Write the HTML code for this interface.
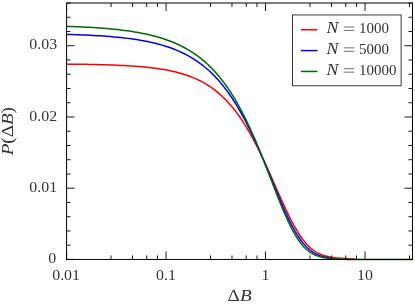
<!DOCTYPE html><html><head><meta charset="utf-8"><style>html,body{margin:0;padding:0;background:#fff;overflow:hidden}svg{display:block;position:absolute;left:0;top:0;will-change:transform}text{font-family:"Liberation Serif",serif;fill:#333}.i{font-style:italic}</style></head><body>
<svg width="415" height="304" viewBox="0 0 415 304">
<rect x="0" y="0" width="415" height="304" fill="#fff"/>
<defs><clipPath id="c"><rect x="66.58" y="3.00" width="345.88" height="258.45"/></clipPath></defs>
<g clip-path="url(#c)" fill="none" stroke-width="1.5" stroke-linejoin="round">
<path d="M65.58,64.09 L69.03,64.13 L72.47,64.16 L75.92,64.21 L79.37,64.25 L82.81,64.30 L86.26,64.36 L89.71,64.42 L93.15,64.49 L96.60,64.57 L100.05,64.65 L103.49,64.75 L106.94,64.85 L110.39,64.96 L113.83,65.09 L117.28,65.23 L120.73,65.38 L124.17,65.56 L127.62,65.75 L131.07,65.96 L134.51,66.19 L137.96,66.45 L141.41,66.73 L144.85,67.05 L148.30,67.41 L151.75,67.80 L155.19,68.23 L158.64,68.71 L162.09,69.25 L165.53,69.84 L168.98,70.50 L172.43,71.23 L175.87,72.04 L179.32,72.94 L182.77,73.93 L186.21,75.04 L189.66,76.26 L193.11,77.61 L196.55,79.11 L200.00,80.77 L200.88,81.22 L201.76,81.68 L202.64,82.15 L203.52,82.64 L204.40,83.14 L205.28,83.65 L206.16,84.17 L207.04,84.71 L207.92,85.26 L208.81,85.83 L209.69,86.41 L210.57,87.00 L211.45,87.61 L212.33,88.23 L213.21,88.87 L214.09,89.53 L214.97,90.20 L215.85,90.89 L216.73,91.59 L217.61,92.31 L218.49,93.05 L219.37,93.81 L220.25,94.58 L221.13,95.37 L222.01,96.18 L222.89,97.01 L223.77,97.86 L224.65,98.73 L225.53,99.62 L226.42,100.53 L227.30,101.46 L228.18,102.41 L229.06,103.38 L229.94,104.38 L230.82,105.39 L231.70,106.43 L232.58,107.49 L233.46,108.57 L234.34,109.68 L235.22,110.81 L236.10,111.96 L236.98,113.13 L237.86,114.33 L238.74,115.56 L239.62,116.80 L240.50,118.08 L241.38,119.37 L242.26,120.69 L243.14,122.04 L244.03,123.41 L244.91,124.80 L245.79,126.22 L246.67,127.67 L247.55,129.14 L248.43,130.63 L249.31,132.15 L250.19,133.70 L251.07,135.26 L251.95,136.86 L252.83,138.47 L253.71,140.11 L254.59,141.78 L255.47,143.46 L256.35,145.17 L257.23,146.90 L258.11,148.65 L258.99,150.43 L259.87,152.22 L260.75,154.03 L261.64,155.86 L262.52,157.72 L263.40,159.58 L264.28,161.47 L265.16,163.37 L266.04,165.28 L266.92,167.21 L267.80,169.15 L268.68,171.11 L269.56,173.07 L270.44,175.04 L271.32,177.02 L272.20,179.00 L273.08,180.99 L273.96,182.99 L274.84,184.98 L275.72,186.98 L276.60,188.97 L277.48,190.96 L278.36,192.95 L279.25,194.93 L280.13,196.90 L281.01,198.87 L281.89,200.82 L282.77,202.75 L283.65,204.67 L284.53,206.58 L285.41,208.46 L286.29,210.33 L287.17,212.17 L288.05,213.99 L288.93,215.78 L289.81,217.54 L290.69,219.27 L291.57,220.98 L292.45,222.64 L293.33,224.28 L294.21,225.88 L295.09,227.44 L295.97,228.96 L296.86,230.45 L297.74,231.89 L298.62,233.29 L299.50,234.65 L300.38,235.97 L301.26,237.24 L302.14,238.46 L303.02,239.65 L303.90,240.78 L304.78,241.87 L305.66,242.92 L306.54,243.92 L307.42,244.88 L308.30,245.79 L309.18,246.65 L310.06,247.48 L310.94,248.26 L311.82,248.99 L312.70,249.69 L313.58,250.35 L314.47,250.97 L315.35,251.55 L316.23,252.09 L317.11,252.60 L317.99,253.08 L318.87,253.52 L319.75,253.93 L320.63,254.32 L321.51,254.67 L322.39,255.00 L323.27,255.31 L324.15,255.59 L325.03,255.85 L325.91,256.09 L326.79,256.31 L327.67,256.52 L328.55,256.71 L329.43,256.88 L330.31,257.04 L331.19,257.19 L332.08,257.33 L332.96,257.45 L333.84,257.57 L334.72,257.68 L335.60,257.78 L336.48,257.88 L337.36,257.97 L338.24,258.05 L339.12,258.13 L340.00,258.21 L341.88,258.35 L343.77,258.48 L345.65,258.60 L347.53,258.71 L349.42,258.81 L351.30,258.90 L353.19,258.98 L355.07,259.06" stroke="#ff0000"/>
<path d="M65.58,34.37 L69.03,34.47 L72.47,34.58 L75.92,34.70 L79.37,34.83 L82.81,34.97 L86.26,35.12 L89.71,35.28 L93.15,35.46 L96.60,35.66 L100.05,35.87 L103.49,36.10 L106.94,36.35 L110.39,36.62 L113.83,36.91 L117.28,37.23 L120.73,37.58 L124.17,37.96 L127.62,38.37 L131.07,38.82 L134.51,39.31 L137.96,39.84 L141.41,40.41 L144.85,41.04 L148.30,41.72 L151.75,42.47 L155.19,43.28 L158.64,44.16 L162.09,45.12 L165.53,46.17 L168.98,47.31 L172.43,48.55 L175.87,49.90 L179.32,51.36 L182.77,52.96 L186.21,54.70 L189.66,56.60 L193.11,58.65 L196.55,60.89 L200.00,63.32 L200.88,63.98 L201.76,64.64 L202.64,65.33 L203.52,66.02 L204.40,66.73 L205.28,67.46 L206.16,68.20 L207.04,68.96 L207.92,69.73 L208.81,70.52 L209.69,71.32 L210.57,72.14 L211.45,72.98 L212.33,73.84 L213.21,74.71 L214.09,75.60 L214.97,76.51 L215.85,77.43 L216.73,78.38 L217.61,79.34 L218.49,80.33 L219.37,81.33 L220.25,82.35 L221.13,83.40 L222.01,84.46 L222.89,85.54 L223.77,86.65 L224.65,87.77 L225.53,88.92 L226.42,90.09 L227.30,91.28 L228.18,92.49 L229.06,93.72 L229.94,94.98 L230.82,96.26 L231.70,97.56 L232.58,98.89 L233.46,100.23 L234.34,101.61 L235.22,103.00 L236.10,104.42 L236.98,105.87 L237.86,107.33 L238.74,108.82 L239.62,110.34 L240.50,111.88 L241.38,113.44 L242.26,115.03 L243.14,116.64 L244.03,118.28 L244.91,119.94 L245.79,121.62 L246.67,123.33 L247.55,125.06 L248.43,126.82 L249.31,128.59 L250.19,130.39 L251.07,132.22 L251.95,134.06 L252.83,135.93 L253.71,137.81 L254.59,139.72 L255.47,141.65 L256.35,143.60 L257.23,145.57 L258.11,147.55 L258.99,149.56 L259.87,151.58 L260.75,153.61 L261.64,155.67 L262.52,157.73 L263.40,159.81 L264.28,161.90 L265.16,164.00 L266.04,166.12 L266.92,168.24 L267.80,170.37 L268.68,172.50 L269.56,174.64 L270.44,176.78 L271.32,178.93 L272.20,181.07 L273.08,183.22 L273.96,185.36 L274.84,187.50 L275.72,189.63 L276.60,191.75 L277.48,193.86 L278.36,195.97 L279.25,198.05 L280.13,200.13 L281.01,202.18 L281.89,204.22 L282.77,206.24 L283.65,208.23 L284.53,210.20 L285.41,212.14 L286.29,214.06 L287.17,215.94 L288.05,217.79 L288.93,219.61 L289.81,221.40 L290.69,223.14 L291.57,224.85 L292.45,226.52 L293.33,228.15 L294.21,229.73 L295.09,231.27 L295.97,232.77 L296.86,234.22 L297.74,235.62 L298.62,236.97 L299.50,238.28 L300.38,239.54 L301.26,240.75 L302.14,241.91 L303.02,243.02 L303.90,244.08 L304.78,245.09 L305.66,246.05 L306.54,246.96 L307.42,247.83 L308.30,248.65 L309.18,249.42 L310.06,250.15 L310.94,250.84 L311.82,251.48 L312.70,252.08 L313.58,252.64 L314.47,253.17 L315.35,253.65 L316.23,254.10 L317.11,254.52 L317.99,254.91 L318.87,255.27 L319.75,255.59 L320.63,255.90 L321.51,256.17 L322.39,256.43 L323.27,256.66 L324.15,256.88 L325.03,257.07 L325.91,257.25 L326.79,257.42 L327.67,257.57 L328.55,257.70 L329.43,257.83 L330.31,257.95 L331.19,258.05 L332.08,258.15 L332.96,258.24" stroke="#0000ff"/>
<path d="M65.58,26.31 L69.03,26.43 L72.47,26.55 L75.92,26.69 L79.37,26.84 L82.81,27.00 L86.26,27.18 L89.71,27.37 L93.15,27.57 L96.60,27.79 L100.05,28.03 L103.49,28.30 L106.94,28.58 L110.39,28.89 L113.83,29.22 L117.28,29.58 L120.73,29.98 L124.17,30.40 L127.62,30.86 L131.07,31.36 L134.51,31.91 L137.96,32.50 L141.41,33.14 L144.85,33.83 L148.30,34.59 L151.75,35.41 L155.19,36.29 L158.64,37.26 L162.09,38.31 L165.53,39.44 L168.98,40.68 L172.43,42.02 L175.87,43.47 L179.32,45.05 L182.77,46.77 L186.21,48.63 L189.66,50.65 L193.11,52.84 L196.55,55.22 L200.00,57.80 L200.88,58.49 L201.76,59.20 L202.64,59.92 L203.52,60.65 L204.40,61.41 L205.28,62.17 L206.16,62.96 L207.04,63.76 L207.92,64.57 L208.81,65.40 L209.69,66.25 L210.57,67.12 L211.45,68.00 L212.33,68.91 L213.21,69.83 L214.09,70.77 L214.97,71.72 L215.85,72.70 L216.73,73.70 L217.61,74.71 L218.49,75.75 L219.37,76.81 L220.25,77.88 L221.13,78.98 L222.01,80.10 L222.89,81.24 L223.77,82.41 L224.65,83.59 L225.53,84.80 L226.42,86.03 L227.30,87.28 L228.18,88.56 L229.06,89.86 L229.94,91.19 L230.82,92.53 L231.70,93.91 L232.58,95.31 L233.46,96.73 L234.34,98.18 L235.22,99.65 L236.10,101.15 L236.98,102.67 L237.86,104.22 L238.74,105.80 L239.62,107.40 L240.50,109.02 L241.38,110.68 L242.26,112.36 L243.14,114.06 L244.03,115.80 L244.91,117.55 L245.79,119.34 L246.67,121.15 L247.55,122.98 L248.43,124.84 L249.31,126.73 L250.19,128.64 L251.07,130.57 L251.95,132.53 L252.83,134.52 L253.71,136.52 L254.59,138.55 L255.47,140.61 L256.35,142.68 L257.23,144.77 L258.11,146.89 L258.99,149.02 L259.87,151.17 L260.75,153.34 L261.64,155.53 L262.52,157.73 L263.40,159.95 L264.28,162.18 L265.16,164.42 L266.04,166.67 L266.92,168.93 L267.80,171.20 L268.68,173.47 L269.56,175.75 L270.44,178.03 L271.32,180.32 L272.20,182.60 L273.08,184.88 L273.96,187.15 L274.84,189.42 L275.72,191.68 L276.60,193.92 L277.48,196.16 L278.36,198.38 L279.25,200.58 L280.13,202.76 L281.01,204.92 L281.89,207.05 L282.77,209.16 L283.65,211.24 L284.53,213.29 L285.41,215.31 L286.29,217.29 L287.17,219.23 L288.05,221.13 L288.93,223.00 L289.81,224.81 L290.69,226.59 L291.57,228.31 L292.45,229.99 L293.33,231.62 L294.21,233.19 L295.09,234.72 L295.97,236.18 L296.86,237.60 L297.74,238.96 L298.62,240.26 L299.50,241.51 L300.38,242.70 L301.26,243.84 L302.14,244.92 L303.02,245.95 L303.90,246.92 L304.78,247.83 L305.66,248.70 L306.54,249.51 L307.42,250.27 L308.30,250.98 L309.18,251.65 L310.06,252.27 L310.94,252.85 L311.82,253.38 L312.70,253.88 L313.58,254.33 L314.47,254.76 L315.35,255.15 L316.23,255.50 L317.11,255.83 L317.99,256.13 L318.87,256.41 L319.75,256.66 L320.63,256.89 L321.51,257.10 L322.39,257.30 L323.27,257.47 L324.15,257.64 L325.03,257.79 L325.91,257.92 L326.79,258.05 L327.67,258.17 L328.55,258.27 L329.43,258.37 L330.31,258.47 L331.19,258.55 L332.08,258.63 L332.96,258.71 L333.84,258.78 L334.72,258.84 L335.60,258.90 L336.48,258.96 L337.36,259.01 L338.24,259.06 L339.12,259.10 L340.00,259.14 L341.88,259.23 L343.77,259.29 L345.65,259.35 L347.53,259.40 L349.42,259.44 L351.30,259.48 L353.19,259.50 L355.07,259.53 L356.95,259.54 L358.84,259.56 L360.72,259.57 L362.60,259.58 L364.49,259.58 L366.37,259.59 L368.25,259.59 L370.14,259.59 L372.02,259.60 L373.90,259.60 L375.79,259.60 L377.67,259.60 L379.56,259.60 L381.44,259.60 L383.32,259.60 L385.21,259.60 L387.09,259.60 L388.97,259.60 L390.86,259.60 L392.74,259.60 L394.62,259.60 L396.51,259.60 L398.39,259.60 L400.27,259.60 L402.16,259.60 L404.04,259.60 L405.93,259.60 L407.81,259.60 L409.69,259.60 L411.58,259.60 L413.46,259.60" stroke="#006a00"/>
</g>
<path d="M66.58,259.45v-8.00M66.58,3.00v8.00M111.06,259.45v-4.00M111.06,3.00v4.00M132.51,259.45v-4.00M132.51,3.00v4.00M146.77,259.45v-4.00M146.77,3.00v4.00M157.48,259.45v-4.00M157.48,3.00v4.00M166.06,259.45v-8.00M166.06,3.00v8.00M210.54,259.45v-4.00M210.54,3.00v4.00M231.98,259.45v-4.00M231.98,3.00v4.00M246.25,259.45v-4.00M246.25,3.00v4.00M256.96,259.45v-4.00M256.96,3.00v4.00M265.53,259.45v-8.00M265.53,3.00v8.00M310.01,259.45v-4.00M310.01,3.00v4.00M331.46,259.45v-4.00M331.46,3.00v4.00M345.72,259.45v-4.00M345.72,3.00v4.00M356.43,259.45v-4.00M356.43,3.00v4.00M365.00,259.45v-8.00M365.00,3.00v8.00M409.49,259.45v-4.00M409.49,3.00v4.00M66.58,259.45h8.00M412.46,259.45h-8.00M66.58,245.20h4.00M412.46,245.20h-4.00M66.58,230.96h4.00M412.46,230.96h-4.00M66.58,216.71h4.00M412.46,216.71h-4.00M66.58,202.46h4.00M412.46,202.46h-4.00M66.58,188.21h8.00M412.46,188.21h-8.00M66.58,173.97h4.00M412.46,173.97h-4.00M66.58,159.72h4.00M412.46,159.72h-4.00M66.58,145.47h4.00M412.46,145.47h-4.00M66.58,131.22h4.00M412.46,131.22h-4.00M66.58,116.98h8.00M412.46,116.98h-8.00M66.58,102.73h4.00M412.46,102.73h-4.00M66.58,88.48h4.00M412.46,88.48h-4.00M66.58,74.24h4.00M412.46,74.24h-4.00M66.58,59.99h4.00M412.46,59.99h-4.00M66.58,45.74h8.00M412.46,45.74h-8.00M66.58,31.49h4.00M412.46,31.49h-4.00M66.58,17.25h4.00M412.46,17.25h-4.00M66.58,3.00h4.00M412.46,3.00h-4.00" stroke="#000" stroke-width="0.9" fill="none"/>
<rect x="66.58" y="3.00" width="345.88" height="256.45" fill="none" stroke="#000" stroke-width="1"/>
<text transform="translate(56.20,263.05) scale(1.06,1)" font-size="15" text-anchor="end">0</text>
<text transform="translate(57.10,191.81) scale(1.06,1)" font-size="15" text-anchor="end">0.01</text>
<text transform="translate(57.10,120.58) scale(1.06,1)" font-size="15" text-anchor="end">0.02</text>
<text transform="translate(57.10,49.34) scale(1.06,1)" font-size="15" text-anchor="end">0.03</text>
<text transform="translate(66.08,280.00) scale(1.06,1)" font-size="15" text-anchor="middle">0.01</text>
<text transform="translate(165.96,280.00) scale(1.06,1)" font-size="15" text-anchor="middle">0.1</text>
<text transform="translate(265.43,280.00) scale(1.06,1)" font-size="15" text-anchor="middle">1</text>
<text transform="translate(364.90,280.00) scale(1.06,1)" font-size="15" text-anchor="middle">10</text>
<text transform="translate(239.6,301.1) scale(1.2,1)" font-size="16" text-anchor="middle">&#916;<tspan class="i">B</tspan></text>
<text transform="translate(12.5,131.2) rotate(-90) scale(1.19,1)" font-size="16" text-anchor="middle"><tspan class="i">P</tspan>(&#916;<tspan class="i">B</tspan>)</text>
<rect x="292.5" y="14.95" width="108.6" height="70.85" fill="#fff" stroke="#222" stroke-width="0.9"/>
<path d="M300.9,29.75H317.5" stroke="#ff0000" stroke-width="1.5"/>
<text transform="translate(326.6,32.85) scale(1.12,1)" font-size="16" class="i">N</text>
<path d="M343.8,27.00h10.4M343.8,30.45h10.4" stroke="#333" stroke-width="0.7"/>
<text transform="translate(359.1,32.85) scale(1,1)" font-size="15">1000</text>
<path d="M300.9,50.60H317.5" stroke="#0000ff" stroke-width="1.5"/>
<text transform="translate(326.6,53.70) scale(1.12,1)" font-size="16" class="i">N</text>
<path d="M343.8,47.85h10.4M343.8,51.30h10.4" stroke="#333" stroke-width="0.7"/>
<text transform="translate(359.1,53.70) scale(1,1)" font-size="15">5000</text>
<path d="M300.9,71.45H317.5" stroke="#006a00" stroke-width="1.5"/>
<text transform="translate(326.6,74.55) scale(1.12,1)" font-size="16" class="i">N</text>
<path d="M343.8,68.70h10.4M343.8,72.15h10.4" stroke="#333" stroke-width="0.7"/>
<text transform="translate(359.1,74.55) scale(1,1)" font-size="15">10000</text>
</svg></body></html>
